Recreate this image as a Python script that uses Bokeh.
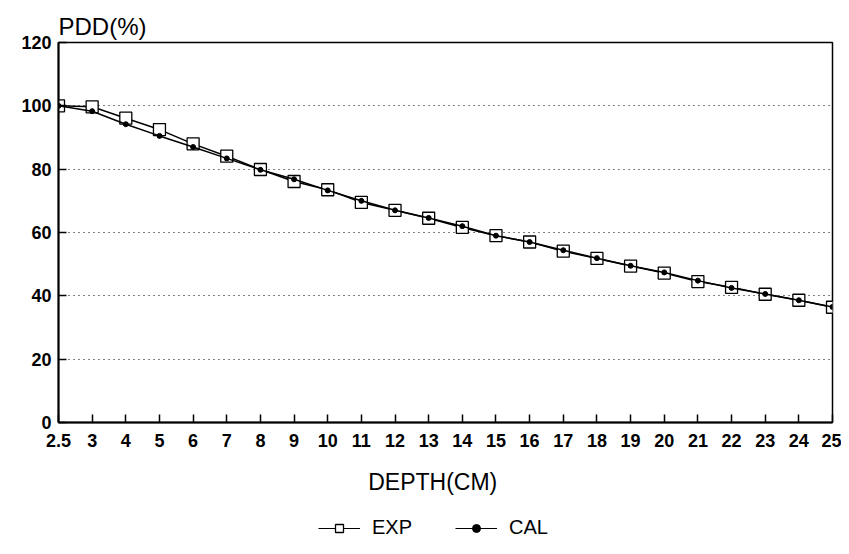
from bokeh.plotting import figure
from bokeh.layouts import column
from bokeh.models import FixedTicker, Legend, LegendItem, Title
from bokeh.embed import file_html
from bokeh.resources import INLINE

depth_labels = ["2.5", "3", "4", "5", "6", "7", "8", "9", "10", "11", "12", "13",
                "14", "15", "16", "17", "18", "19", "20", "21", "22", "23", "24", "25"]
exp_pdd = [100, 99.7, 96.1, 92.5, 88.0, 84.1, 79.9, 76.1, 73.5, 69.5, 67.0, 64.5,
           61.6, 59.0, 57.0, 54.1, 51.8, 49.4, 47.2, 44.5, 42.7, 40.5, 38.6, 36.4]
cal_pdd = [100, 98.3, 94.2, 90.5, 87.0, 83.4, 79.8, 76.8, 73.3, 70.0, 67.0, 64.6,
           62.0, 59.0, 57.0, 54.4, 51.9, 49.5, 47.4, 44.8, 42.5, 40.6, 38.6, 36.5]
y_ticks = [0, 20, 40, 60, 80, 100, 120]

xs = list(range(len(depth_labels)))

p = figure(width=841, height=506, output_backend="svg", toolbar_location=None,
           x_range=(xs[0], xs[-1]), y_range=(0, 120),
           min_border_left=58, min_border_right=9, min_border_top=42, min_border_bottom=84)

p.title = Title(text="PDD(%)", align="left", text_font="Liberation Sans",
                text_font_size="24px", text_font_style="normal", text_color="black",
                standoff=6, offset=0)

p.xaxis.ticker = FixedTicker(ticks=xs)
p.xaxis.major_label_overrides = {i: lab for i, lab in enumerate(depth_labels)}
p.yaxis.ticker = FixedTicker(ticks=y_ticks)
for ax in (p.xaxis, p.yaxis):
    ax.major_label_text_font = "Liberation Sans"
    ax.major_label_text_font_style = "bold"
    ax.major_label_text_font_size = "18px"
    ax.major_label_text_color = "black"
    ax.axis_line_color = "black"
    ax.axis_line_width = 2
    ax.major_tick_in = 8
    ax.major_tick_out = 0
    ax.major_tick_line_color = "black"
    ax.major_tick_line_width = 1.5
    ax.minor_tick_line_color = None
p.xaxis.major_label_standoff = 11
p.yaxis.major_label_standoff = 7
p.xaxis.axis_label = "DEPTH(CM)\u00a0\u00a0\u00a0\u00a0"
p.xaxis.axis_label_text_font = "Liberation Sans"
p.xaxis.axis_label_text_font_style = "normal"
p.xaxis.axis_label_text_font_size = "23px"
p.xaxis.axis_label_text_color = "black"
p.xaxis.axis_label_standoff = 19

p.xgrid.grid_line_color = None
p.ygrid.ticker = FixedTicker(ticks=y_ticks[1:-1])
p.ygrid.grid_line_color = "black"
p.ygrid.grid_line_dash = "1 4"
p.ygrid.grid_line_width = 1.2

p.outline_line_color = "black"
p.outline_line_width = 1.5
p.background_fill_color = "white"
p.border_fill_color = "white"


def draw(fig, visible=True, sq=12, lw=1.5):
    l1 = fig.line(xs, exp_pdd, line_color="black", line_width=lw, visible=visible)
    s1 = fig.scatter(xs, exp_pdd, marker="square", size=sq, fill_color="white",
                     line_color="black", line_width=1.3, visible=visible)
    l2 = fig.line(xs, cal_pdd, line_color="black", line_width=lw, visible=visible)
    s2 = fig.scatter(xs, cal_pdd, marker="circle", size=5, fill_color="black",
                     line_color="black", visible=visible)
    return l1, s1, l2, s2


draw(p)

# legend strip under the chart
lg = figure(width=841, height=40, output_backend="svg", toolbar_location=None,
            x_range=(0, 1), y_range=(0, 1), min_border=0)
lg.axis.visible = False
lg.grid.grid_line_color = None
lg.outline_line_color = None
lg.background_fill_color = "white"
lg.border_fill_color = "white"
m1, n1, m2, n2 = draw(lg, visible=False, sq=10, lw=1.2)

legend = Legend(items=[LegendItem(label="EXP", renderers=[m1, n1]),
                       LegendItem(label="CAL", renderers=[m2, n2])],
                orientation="horizontal", location=(260, 7),
                label_text_font="Liberation Sans", label_text_font_size="20px",
                label_text_color="black", glyph_width=42, glyph_height=20,
                spacing=43, label_standoff=12, border_line_color=None,
                background_fill_alpha=0, inactive_fill_alpha=0,
                margin=0, padding=4, click_policy="none")
lg.add_layout(legend)

layout = column(p, lg, spacing=0)
open("out.html", "w").write(file_html(layout, INLINE))
